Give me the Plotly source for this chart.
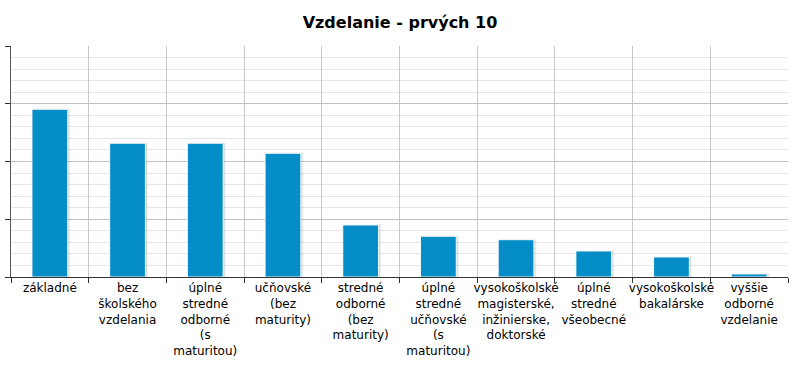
import plotly.graph_objects as go

categories = [
    "základné",
    "bez<br>školského<br>vzdelania",
    "úplné<br>stredné<br>odborné<br>(s<br>maturitou)",
    "učňovské<br>(bez<br>maturity)",
    "stredné<br>odborné<br>(bez<br>maturity)",
    "úplné<br>stredné<br>učňovské<br>(s<br>maturitou)",
    "vysokoškolské<br>magisterské,<br>inžinierske,<br>doktorské",
    "úplné<br>stredné<br>všeobecné",
    "vysokoškolské<br>bakalárske",
    "vyššie<br>odborné<br>vzdelanie",
]
values = [14.52, 11.58, 11.58, 10.71, 4.50, 3.52, 3.23, 2.25, 1.73, 0.26]

title_text = "Vzdelanie - prvých 10"

fig = go.Figure()
# shadow
fig.add_trace(go.Bar(
    x=categories, y=values, width=0.46, offset=-0.21,
    marker=dict(color="rgba(0,0,0,0.10)", line=dict(color="rgba(0,0,0,0.05)", width=2)),
    hoverinfo="skip", showlegend=False,
))
fig.add_trace(go.Bar(
    x=categories, y=values, width=0.46, offset=-0.23,
    marker=dict(color="#058DC7", line=dict(color="rgba(255,255,255,0.9)", width=1)),
    showlegend=False,
))

fig.update_layout(
    width=800, height=376,
    barmode="overlay",
    plot_bgcolor="white", paper_bgcolor="white",
    margin=dict(l=11, r=12, t=46, b=99),
    title=dict(text="<b>" + title_text + "</b>", x=0.5, xanchor="center", y=0.94, yanchor="middle",
               font=dict(family="DejaVu Sans", size=16, color="black")),
    font=dict(family="DejaVu Sans", size=12, color="black"),
    xaxis=dict(
        type="category", tickson="boundaries", ticks="outside", ticklen=5, tickcolor="#333",
        showgrid=True, gridcolor="#c8c8c8", gridwidth=1,
        showline=True, linecolor="#333", linewidth=1,
        tickfont=dict(family="DejaVu Sans", size=12, color="black"),
        tickangle=0, automargin=False,
    ),
    yaxis=dict(
        range=[0, 20], dtick=5, showticklabels=False,
        ticks="outside", ticklen=5, tickcolor="#333",
        showgrid=True, gridcolor="#c0c0c0", gridwidth=1,
        showline=True, linecolor="#555", linewidth=1,
        zeroline=False, automargin=False,
        minor=dict(dtick=1, showgrid=True, gridcolor="#e6e6e6", gridwidth=1, ticks=""),
    ),
)

fig.write_html("out.html", config={"displayModeBar": False},
               post_script="document.body.style.margin='0';")
